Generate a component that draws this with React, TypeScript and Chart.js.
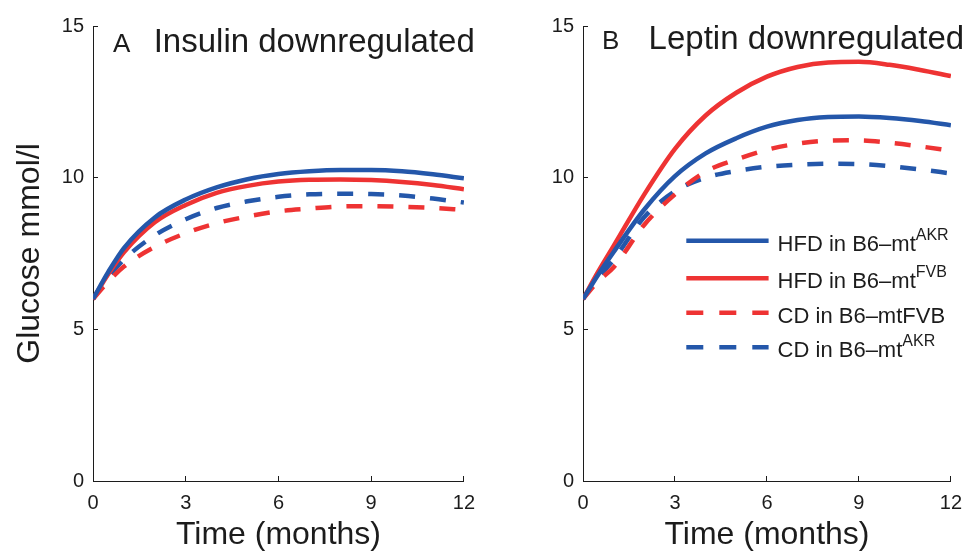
import React, { useEffect, useRef } from 'react';
import { Chart, registerables } from 'chart.js';

Chart.register(...registerables);

// ---- data ----
const months = [0, 0.5, 1, 2, 3, 4, 5, 6, 7, 8, 9, 10, 11, 12];
const xTickValues = [0, 3, 6, 9, 12];
const yTickValues = [0, 5, 10, 15];

const insulinHfdAkr = [6.0, 6.9, 7.68, 8.69, 9.28, 9.68, 9.95, 10.12, 10.21, 10.25, 10.25, 10.21, 10.11, 9.98];
const insulinHfdFvb = [6.0, 6.83, 7.54, 8.53, 9.1, 9.5, 9.73, 9.87, 9.93, 9.94, 9.92, 9.86, 9.76, 9.62];
const insulinCdFvb = [6.0, 6.58, 7.07, 7.72, 8.17, 8.5, 8.72, 8.89, 8.98, 9.05, 9.06, 9.04, 9.0, 8.94];
const insulinCdAkr = [6.0, 6.72, 7.3, 8.1, 8.63, 9.0, 9.22, 9.37, 9.45, 9.47, 9.46, 9.41, 9.31, 9.18];

const leptinHfdAkr = [6.0, 6.81, 7.55, 8.95, 10.05, 10.8, 11.3, 11.68, 11.9, 12.0, 12.02, 11.97, 11.87, 11.73];
const leptinHfdFvb = [6.0, 6.91, 7.75, 9.45, 10.95, 12.05, 12.8, 13.33, 13.65, 13.8, 13.82, 13.72, 13.55, 13.35];
const leptinCdFvb = [6.0, 6.59, 7.05, 8.45, 9.45, 10.2, 10.6, 10.92, 11.12, 11.22, 11.23, 11.15, 11.03, 10.89];
const leptinCdAkr = [6.0, 6.7, 7.3, 8.7, 9.55, 10.0, 10.22, 10.36, 10.43, 10.46, 10.45, 10.38, 10.27, 10.14];

const seriesNames = ['HFD in B6–mtAKR', 'HFD in B6–mtFVB', 'CD in B6–mtFVB', 'CD in B6–mtAKR'];
const legendMain = ['HFD in B6–mt', 'HFD in B6–mt', 'CD in B6–mtFVB', 'CD in B6–mt'];
const legendSup = ['AKR', 'FVB', '', 'AKR'];

// ---- styles ----
const FONT = '"Liberation Sans", Arial, Helvetica, sans-serif';
const TEXT = '#1c1c1c';
const BLUE = '#2457AA';
const RED = '#EE3333';
const seriesColors = [BLUE, RED, RED, BLUE];
const seriesDashed = [false, false, true, true];
const PLOT_DASH = [16, 15];
const LEGEND_DASH = [17, 16];

const annotPlugin = {
  id: 'annot',
  afterDraw(chart: any, _args: any, o: any) {
    const { ctx, chartArea } = chart;
    const L = chartArea.left;
    const T = chartArea.top;
    ctx.save();
    ctx.fillStyle = TEXT;
    ctx.textAlign = 'left';
    ctx.textBaseline = 'alphabetic';
    ctx.font = `26px ${FONT}`;
    ctx.fillText(o.letter, L + o.letterDx, T + o.baseDy);
    ctx.font = `33px ${FONT}`;
    ctx.fillText(o.title, L + o.titleDx, T + o.baseDy);

    if (o.legend) {
      const rowDy = [214.7, 252.3, 286.7, 321.3];
      for (let i = 0; i < legendMain.length; i++) {
        const y = T + rowDy[i];
        ctx.beginPath();
        ctx.strokeStyle = seriesColors[i];
        ctx.lineWidth = 4.5;
        ctx.lineCap = 'butt';
        ctx.setLineDash(seriesDashed[i] ? LEGEND_DASH : []);
        ctx.moveTo(L + 103.3, y);
        ctx.lineTo(L + 185.6, y);
        ctx.stroke();
        ctx.setLineDash([]);
        const tx = L + 194.6;
        const ty = y + 10;
        ctx.font = `22px ${FONT}`;
        ctx.fillStyle = TEXT;
        ctx.fillText(legendMain[i], tx, ty);
        if (legendSup[i]) {
          const w = ctx.measureText(legendMain[i]).width;
          ctx.font = `16px ${FONT}`;
          ctx.fillText(legendSup[i], tx + w, ty - 11);
        }
      }
    }
    ctx.restore();
  },
};

type PanelProps = {
  letter: string;
  title: string;
  series: number[][];
  showYTitle: boolean;
  legend: boolean;
  width: number;
  padRight: number;
  letterDx: number;
  titleDx: number;
  baseDy: number;
};

function Panel(p: PanelProps) {
  const ref = useRef<HTMLCanvasElement | null>(null);
  useEffect(() => {
    if (!ref.current) return;
    const datasets = p.series.map((vals, i) => ({
      label: seriesNames[i],
      data: months.map((m, j) => ({ x: m, y: vals[j] })),
      borderColor: seriesColors[i],
      backgroundColor: seriesColors[i],
      borderWidth: 4.5,
      borderDash: seriesDashed[i] ? PLOT_DASH : [],
      borderCapStyle: 'butt' as const,
      pointRadius: 0,
      fill: false,
      cubicInterpolationMode: 'monotone' as const,
    }));
    const chart = new Chart(ref.current, {
      type: 'line',
      data: { datasets },
      plugins: [annotPlugin],
      options: {
        responsive: false,
        animation: false,
        devicePixelRatio: 1,
        layout: { padding: { top: 16, right: p.padRight, left: 0, bottom: 0 } },
        plugins: {
          legend: { display: false },
          tooltip: { enabled: false },
          annot: {
            letter: p.letter,
            title: p.title,
            legend: p.legend,
            letterDx: p.letterDx,
            titleDx: p.titleDx,
            baseDy: p.baseDy,
          },
        } as any,
        scales: {
          x: {
            type: 'linear',
            min: 0,
            max: 12,
            afterBuildTicks: (s: any) => {
              s.ticks = xTickValues.map((v) => ({ value: v }));
            },
            afterFit: (s: any) => {
              s.height = 73;
            },
            ticks: {
              color: TEXT,
              font: { family: FONT, size: 20 },
              padding: 15,
              maxRotation: 0,
              autoSkip: false,
            },
            grid: {
              drawOnChartArea: false,
              drawTicks: true,
              tickLength: -5,
              color: TEXT,
              lineWidth: 1,
            },
            border: { display: true, color: TEXT, width: 1 },
            title: {
              display: true,
              text: 'Time (months)',
              color: TEXT,
              font: { family: FONT, size: 32, lineHeight: 1.2 },
              padding: { top: 0, bottom: 0 },
            },
          },
          y: {
            type: 'linear',
            min: 0,
            max: 15,
            afterBuildTicks: (s: any) => {
              s.ticks = yTickValues.map((v) => ({ value: v }));
            },
            afterFit: (s: any) => {
              s.width = 93;
            },
            ticks: {
              color: TEXT,
              font: { family: FONT, size: 20 },
              padding: 14,
              autoSkip: false,
            },
            grid: {
              drawOnChartArea: false,
              drawTicks: true,
              tickLength: -5,
              color: TEXT,
              lineWidth: 1,
            },
            border: { display: true, color: TEXT, width: 1 },
            title: {
              display: p.showYTitle,
              text: 'Glucose mmol/l',
              color: TEXT,
              font: { family: FONT, size: 32, lineHeight: 1.2 },
              padding: { top: 11, bottom: 0 },
            },
          },
        },
      } as any,
    });
    return () => chart.destroy();
  }, []);
  return <canvas ref={ref} width={p.width} height={554} style={{ display: 'block', width: p.width, height: 554 }} />;
}

export default function App() {
  return (
    <div style={{ position: 'absolute', left: 0, top: 0, width: 977, height: 554, background: '#fff' }}>
      <div style={{ position: 'absolute', left: 0, top: 0 }}>
        <Panel
          letter="A"
          title="Insulin downregulated"
          series={[insulinHfdAkr, insulinHfdFvb, insulinCdFvb, insulinCdAkr]}
          showYTitle={true}
          legend={false}
          width={490}
          padRight={26}
          letterDx={20}
          titleDx={60.7}
          baseDy={25.7}
        />
      </div>
      <div style={{ position: 'absolute', left: 490, top: 0 }}>
        <Panel
          letter="B"
          title="Leptin downregulated"
          series={[leptinHfdAkr, leptinHfdFvb, leptinCdFvb, leptinCdAkr]}
          showYTitle={false}
          legend={true}
          width={487}
          padRight={23}
          letterDx={19}
          titleDx={65.6}
          baseDy={23.3}
        />
      </div>
    </div>
  );
}
